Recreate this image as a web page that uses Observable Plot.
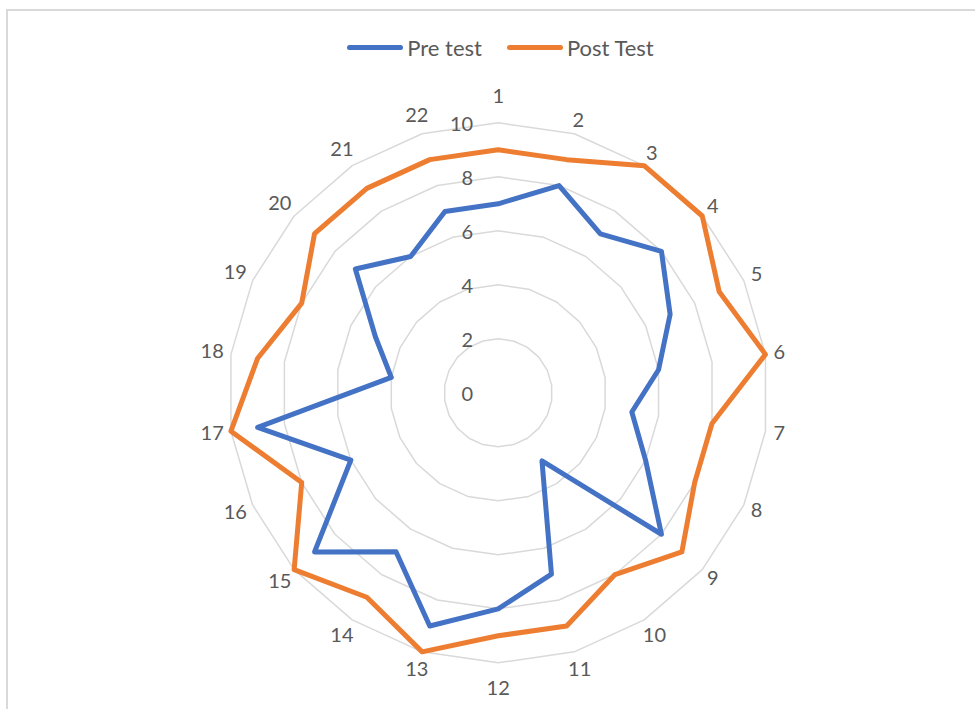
<!DOCTYPE html>
<html>
<head>
<meta charset="utf-8">
<script src="https://cdn.jsdelivr.net/npm/d3@7"></script>
<script src="https://cdn.jsdelivr.net/npm/@observablehq/plot@0.6"></script>
<style>
  html, body { margin: 0; padding: 0; background: #fff; }
  #wrap { position: relative; width: 975px; height: 709px; overflow: hidden; font-family: Lato, "Noto Sans", sans-serif; }
  #frame { position: absolute; left: 6px; top: 9px; width: 1000px; height: 800px; border-left: 2px solid #d9d9d9; border-top: 2px solid #d9d9d9; }
  #legend { position: relative; height: 70px; display: flex; justify-content: center; align-items: center; gap: 25px; padding-top: 25px; padding-left: 26px; box-sizing: border-box; font-size: 22px; color: #595959; }
  .item { display: flex; align-items: center; gap: 4px; }
  .sw { width: 56px; height: 5px; border-radius: 3px; }
  #chart { position: relative; }
</style>
</head>
<body>
<div id="wrap">
  <div id="frame"></div>
  <div id="legend"></div>
  <div id="chart"></div>
</div>
<script>
const categories = ["1","2","3","4","5","6","7","8","9","10","11","12","13","14","15","16","17","18","19","20","21","22"];
const preTest  = [7,8,7,8,7,6,5,6,8,3,7,8,9,7,9,6,9,4,5,7,6,7];
const postTest = [9,9,10,10,9,10,8,8,9,8,9,9,10,9,10,8,10,9,8,9,9,9];
const seriesNames = ["Pre test", "Post Test"];
const seriesColors = ["#4472C4", "#ED7D31"];
const radialTicks = [0, 2, 4, 6, 8, 10];

const W = 975, H = 639;
const cx = 497.7, cy = 322.3;   // center in SVG pixels
const k = 27;                   // pixels per unit
const n = categories.length;
const ang = i => 2 * Math.PI * i / n;

// legend
const legend = d3.select("#legend");
seriesNames.forEach((s, j) => {
  const it = legend.append("div").attr("class", "item");
  it.append("div").attr("class", "sw").style("background", seriesColors[j]);
  it.append("span").text(s);
});

// data tables
const grid = [];
radialTicks.filter(t => t > 0).forEach(t => {
  categories.forEach((c, i) => grid.push({ring: t, x: t * Math.sin(ang(i)), y: t * Math.cos(ang(i))}));
});
const series = [];
[preTest, postTest].forEach((vals, j) => {
  vals.forEach((v, i) => series.push({name: seriesNames[j], x: v * Math.sin(ang(i)), y: v * Math.cos(ang(i))}));
});
const maxV = d3.max(radialTicks);
const labels = categories.map((c, i) => {
  const vertical = Math.abs(Math.sin(ang(i))) < 1e-6;
  const off = vertical ? 26 : (c.length > 1 ? 19 : 14);
  const r = maxV + off / k;
  return {label: c, x: r * Math.sin(ang(i)), y: r * Math.cos(ang(i))};
});
const tickLabels = radialTicks.map(t => ({label: String(t), x: 0, y: t}));

const chart = Plot.plot({
  width: W,
  height: H,
  margin: 0,
  x: {domain: [-cx / k, (W - cx) / k], range: [0, W], axis: null},
  y: {domain: [-(H - cy) / k, cy / k], range: [H, 0], axis: null},
  color: {domain: seriesNames, range: seriesColors},
  style: {fontFamily: "Lato, 'Noto Sans', sans-serif", fontSize: "20px", background: "transparent", overflow: "visible"},
  marks: [
    Plot.line(grid, {x: "x", y: "y", z: "ring", curve: "linear-closed", stroke: "#d9d9d9", strokeWidth: 1.5}),
    Plot.text(tickLabels, {x: "x", y: "y", text: "label", textAnchor: "end", dx: -25, dy: 2, fill: "#595959", fontSize: 20}),
    Plot.text(labels, {x: "x", y: "y", text: "label", fill: "#595959", fontSize: 20}),
    Plot.line(series, {x: "x", y: "y", z: "name", stroke: "name", curve: "linear-closed", strokeWidth: 5, strokeLinejoin: "round"})
  ]
});
document.getElementById("chart").appendChild(chart);
</script>
</body>
</html>
